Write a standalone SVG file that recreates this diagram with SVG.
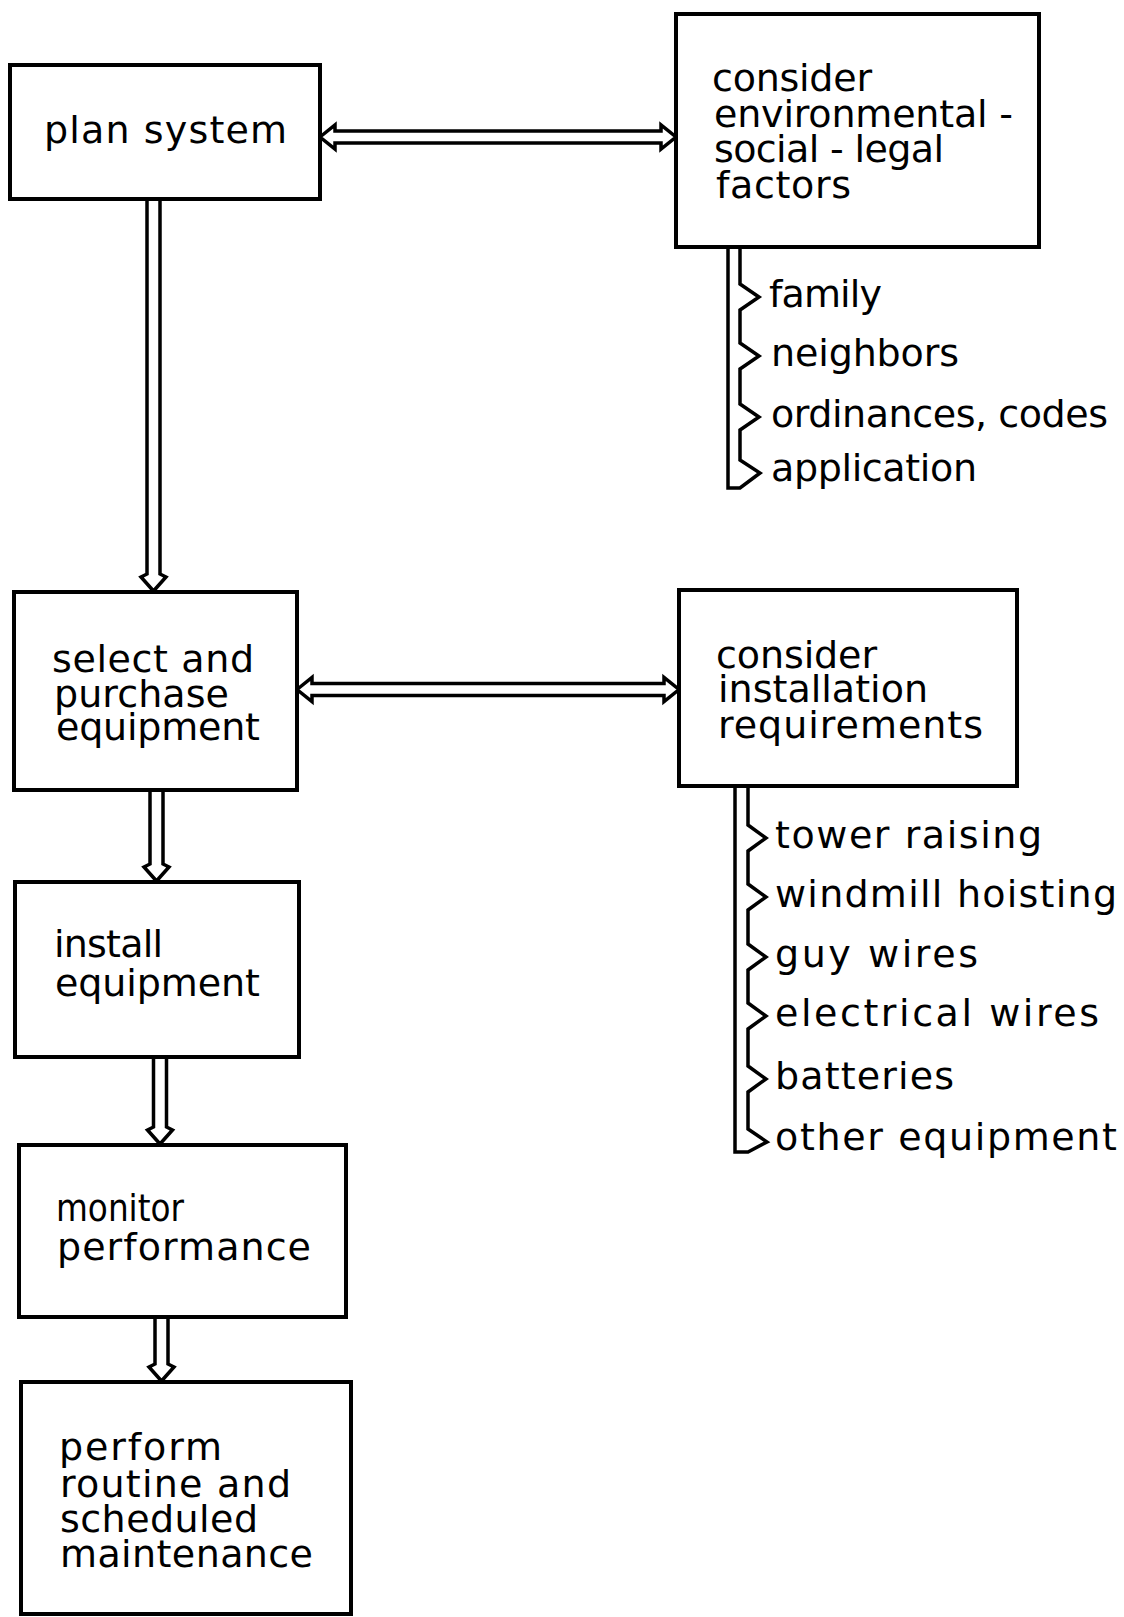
<svg xmlns="http://www.w3.org/2000/svg" width="1124" height="1617" viewBox="0 0 1124 1617">
<style>
.box{fill:#fff;stroke:#000;stroke-width:4}
.arr{fill:none;stroke:#000;stroke-width:3.5;stroke-linejoin:miter}
.br{fill:none;stroke:#000;stroke-width:3.5;stroke-linejoin:miter}
text{font-family:"DejaVu Sans","Liberation Sans",sans-serif;font-size:38px;fill:#000}
</style>
<rect width="1124" height="1617" fill="#fff"/>
<g id="connectors">
  <path class="arr" d="M320,137 L335,125 L335,131 L661,131 L661,125 L676,137 L661,149 L661,143 L335,143 L335,149 Z"/>
  <path class="arr" d="M297,689.5 L312,677.5 L312,683.5 L664,683.5 L664,677.5 L679,689.5 L664,701.5 L664,695.5 L312,695.5 L312,701.5 Z"/>
  <path class="arr" d="M147,199 V574 L141,577 L153.5,591 L166,577 L160,574 V199"/>
  <path class="arr" d="M150,790 V864 L144,867 L156.5,881 L169,867 L163,864 V790"/>
  <path class="arr" d="M153.5,1057 V1127 L147.5,1130 L160,1144 L172.5,1130 L166.5,1127 V1057"/>
  <path class="arr" d="M155,1317 V1364 L149,1367 L161.5,1381 L174,1367 L168,1364 V1317"/>
  <path class="br" d="M728,247 V488 H740 L760,473 L740,460 V430 L759,417 L740,404 V369 L759,356 L740,343 V310 L759,297 L740,284 V247"/>
  <path class="br" d="M735,786 V1152 H748 L767,1142 L748,1129 V1092 L766,1079 L748,1066 V1029 L766,1016 L748,1003 V970 L766,957 L748,944 V910 L766,897 L748,884 V851 L766,838 L748,825 V786"/>
</g>
<g id="plan-system">
  <rect class="box" x="10" y="65" width="310" height="134"/>
  <text x="44" y="143" textLength="243" lengthAdjust="spacing">plan system</text>
</g>
<g id="consider-factors">
  <rect class="box" x="676" y="14" width="363" height="233"/>
  <text x="712" y="91" textLength="160" lengthAdjust="spacing">consider</text>
  <text x="714" y="127" textLength="299" lengthAdjust="spacing">environmental -</text>
  <text x="714" y="162" textLength="230" lengthAdjust="spacing">social - legal</text>
  <text x="716" y="198" textLength="135" lengthAdjust="spacing">factors</text>
</g>
<g id="factor-items">
  <text x="769" y="307" textLength="113" lengthAdjust="spacing">family</text>
  <text x="771" y="366" textLength="188" lengthAdjust="spacing">neighbors</text>
  <text x="771" y="427" textLength="337" lengthAdjust="spacing">ordinances, codes</text>
  <text x="771" y="481" textLength="206" lengthAdjust="spacing">application</text>
</g>
<g id="select-purchase">
  <rect class="box" x="14" y="592" width="283" height="198"/>
  <text x="52" y="672" textLength="202" lengthAdjust="spacing">select and</text>
  <text x="54" y="707" textLength="175" lengthAdjust="spacing">purchase</text>
  <text x="56" y="740" textLength="204" lengthAdjust="spacing">equipment</text>
</g>
<g id="consider-installation">
  <rect class="box" x="679" y="590" width="338" height="196"/>
  <text x="716" y="668" textLength="161" lengthAdjust="spacing">consider</text>
  <text x="718" y="702" textLength="210" lengthAdjust="spacing">installation</text>
  <text x="718" y="738" textLength="265" lengthAdjust="spacing">requirements</text>
</g>
<g id="installation-items">
  <text x="775" y="848" textLength="267" lengthAdjust="spacing">tower raising</text>
  <text x="775" y="907" textLength="342" lengthAdjust="spacing">windmill hoisting</text>
  <text x="775" y="967" textLength="203" lengthAdjust="spacing">guy wires</text>
  <text x="775" y="1026" textLength="324" lengthAdjust="spacing">electrical wires</text>
  <text x="775" y="1089" textLength="179" lengthAdjust="spacing">batteries</text>
  <text x="775" y="1150" textLength="342" lengthAdjust="spacing">other equipment</text>
</g>
<g id="install-equipment">
  <rect class="box" x="15" y="882" width="284" height="175"/>
  <text x="54" y="957" textLength="109" lengthAdjust="spacing">install</text>
  <text x="55" y="996" textLength="205" lengthAdjust="spacing">equipment</text>
</g>
<g id="monitor-performance">
  <rect class="box" x="19" y="1145" width="327" height="172"/>
  <text x="56" y="1221" textLength="128" lengthAdjust="spacingAndGlyphs">monitor</text>
  <text x="57" y="1260" textLength="254" lengthAdjust="spacing">performance</text>
</g>
<g id="maintenance">
  <rect class="box" x="21" y="1382" width="330" height="232"/>
  <text x="59" y="1460" textLength="163" lengthAdjust="spacing">perform</text>
  <text x="60" y="1497" textLength="231" lengthAdjust="spacing">routine and</text>
  <text x="60" y="1532" textLength="198" lengthAdjust="spacing">scheduled</text>
  <text x="60" y="1567" textLength="253" lengthAdjust="spacing">maintenance</text>
</g>
</svg>
